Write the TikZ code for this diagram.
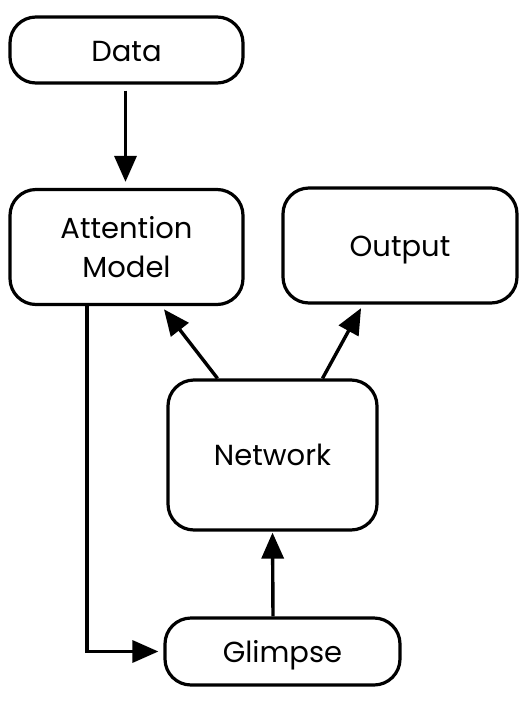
\documentclass[tikz,border=0pt]{standalone}
\usepackage{fontspec}
\setmainfont{Poppins}
\usetikzlibrary{arrows.meta}
\newcommand\lowtext[2]{\raisebox{-#1}[\height][\depth]{#2}}
\begin{document}
\begin{tikzpicture}[x=1pt,y=-1pt,
  box/.style={draw=black, line width=3.2pt, rounded corners=26pt, fill=white, align=center,
    font=\fontsize{29}{39}\selectfont, inner sep=0pt},
  arr/.style={draw=black, line width=3.4pt, -{Triangle[length=26pt,width=22pt]}}]
\useasboundingbox[fill=white] (0,0) rectangle (522,713);
\node[box, minimum width=233pt, minimum height=66pt] (data) at (126.5,50) {\lowtext{2pt}{Data}};
\node[box, minimum width=233pt, minimum height=115pt] (att) at (126.5,247) {Attention\\Model};
\node[box, minimum width=234pt, minimum height=115pt] (out) at (400,245.5) {\lowtext{5pt}{Output}};
\node[box, minimum width=209pt, minimum height=150pt] (net) at (272.5,455) {Network};
\node[box, minimum width=235pt, minimum height=67pt] (glm) at (282.5,651.5) {\lowtext{4pt}{Glimpse}};
\draw[arr, shorten <=6pt, shorten >=6pt] ([xshift=-1pt]data.south) -- ([xshift=-1pt]att.north);
\draw[arr, shorten >=4pt] ([xshift=-55pt]net.north) -- ([xshift=35pt]att.south);
\draw[arr, shorten >=4pt] ([xshift=50pt]net.north) -- ([xshift=-37pt]out.south);
\draw[arr, shorten >=1pt] ([xshift=-9.5pt]glm.north) -- (net.south);
\draw[arr, shorten >=5pt] ([xshift=-39.5pt]att.south) |- (glm.west);
\end{tikzpicture}
\end{document}
